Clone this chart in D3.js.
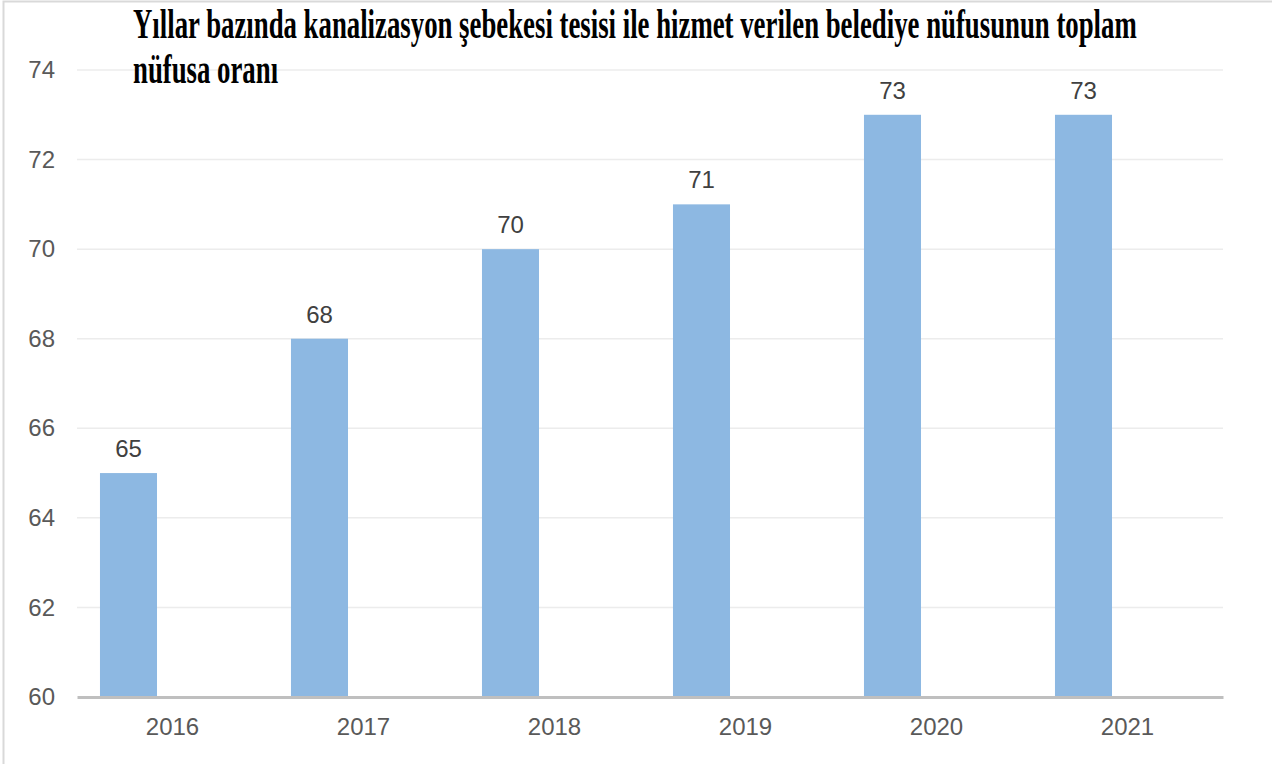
<!DOCTYPE html>
<html>
<head>
<meta charset="utf-8">
<script src="https://cdn.jsdelivr.net/npm/d3@7"></script>
<style>
  body { margin: 0; background: #fff; }
  svg { display: block; }
</style>
</head>
<body>
<div id="chart"></div>
<script>
var years = ["2016", "2017", "2018", "2019", "2020", "2021"];
var values = [65, 68, 70, 71, 73, 73];
var yTicks = [60, 62, 64, 66, 68, 70, 72, 74];
var titleLines = [
  "Yıllar bazında kanalizasyon şebekesi tesisi ile hizmet verilen belediye nüfusunun toplam",
  "nüfusa oranı"
];

var svgWidth = 1272;
var svgHeight = 764;

var margin = { top: 70, right: 49, bottom: 67, left: 77 };
var width = svgWidth - margin.left - margin.right;
var height = svgHeight - margin.top - margin.bottom;

var svg = d3.select("#chart")
  .append("svg")
  .attr("width", svgWidth)
  .attr("height", svgHeight);

// chart border
svg.append("rect")
  .attr("x", 3.5)
  .attr("y", 1.5)
  .attr("width", svgWidth + 10)
  .attr("height", svgHeight + 10)
  .attr("fill", "none")
  .attr("stroke", "#d9d9d9")
  .attr("stroke-width", 2);

var chartGroup = svg.append("g")
  .attr("transform", `translate(${margin.left}, ${margin.top})`);

var x0 = d3.scaleBand().domain(years).range([0, width]);
// second slot is empty, bars sit in the left slot of the cluster
var x1 = d3.scaleBand().domain(["a", "b"]).range([0, x0.bandwidth()])
  .paddingInner(0.352).paddingOuter(0.261);

var y = d3.scaleLinear().domain([60, 74]).range([height, 0]);

// gridlines
chartGroup.append("g")
  .selectAll("line")
  .data(yTicks.slice(1))
  .enter()
  .append("line")
  .attr("x1", 0)
  .attr("x2", width)
  .attr("y1", d => y(d))
  .attr("y2", d => y(d))
  .attr("stroke", "#ececec")
  .attr("stroke-width", 1.5);

// y axis labels
var leftAxis = d3.axisLeft(y).tickValues(yTicks).tickSize(0).tickPadding(22);
var yAxis = chartGroup.append("g").call(leftAxis);
yAxis.select(".domain").remove();
yAxis.selectAll("text")
  .attr("font-family", "Liberation Sans, Arial, sans-serif")
  .attr("font-size", "24px")
  .attr("fill", "#595959");

// bars
chartGroup.selectAll("rect.bar")
  .data(values)
  .enter()
  .append("rect")
  .attr("class", "bar")
  .attr("x", (d, i) => x0(years[i]) + x1("a"))
  .attr("y", d => y(d))
  .attr("width", x1.bandwidth())
  .attr("height", d => height - y(d))
  .attr("fill", "#8db8e2");

// value labels
chartGroup.selectAll("text.val")
  .data(values)
  .enter()
  .append("text")
  .attr("class", "val")
  .attr("x", (d, i) => x0(years[i]) + x1("a") + x1.bandwidth() / 2)
  .attr("y", d => y(d) - 16)
  .attr("text-anchor", "middle")
  .attr("font-family", "Liberation Sans, Arial, sans-serif")
  .attr("font-size", "24px")
  .attr("fill", "#404040")
  .text(d => d);

// x axis
var bottomAxis = d3.axisBottom(x0).tickSize(0).tickPadding(21);
var xAxis = chartGroup.append("g")
  .attr("transform", `translate(0, ${height})`)
  .call(bottomAxis);
xAxis.select(".domain")
  .attr("stroke", "#bfbfbf")
  .attr("stroke-width", 3);
xAxis.selectAll("text")
  .attr("font-family", "Liberation Sans, Arial, sans-serif")
  .attr("font-size", "24px")
  .attr("fill", "#595959");

// title (condensed bold serif)
var titleGroup = svg.append("g");
var t1 = titleGroup.append("text")
  .attr("x", 0)
  .attr("y", 0)
  .attr("font-family", "Liberation Serif, Times New Roman, serif")
  .attr("font-weight", "bold")
  .attr("font-size", "43px")
  .attr("fill", "#000")
  .text(titleLines[0]);
var t2 = titleGroup.append("text")
  .attr("x", 0)
  .attr("y", 45)
  .attr("font-family", "Liberation Serif, Times New Roman, serif")
  .attr("font-weight", "bold")
  .attr("font-size", "43px")
  .attr("fill", "#000")
  .text(titleLines[1]);
var natural = t1.node().getComputedTextLength();
var sx = 1004 / natural;
titleGroup.attr("transform", `translate(133, 38) scale(${sx}, 1)`);
</script>
</body>
</html>
